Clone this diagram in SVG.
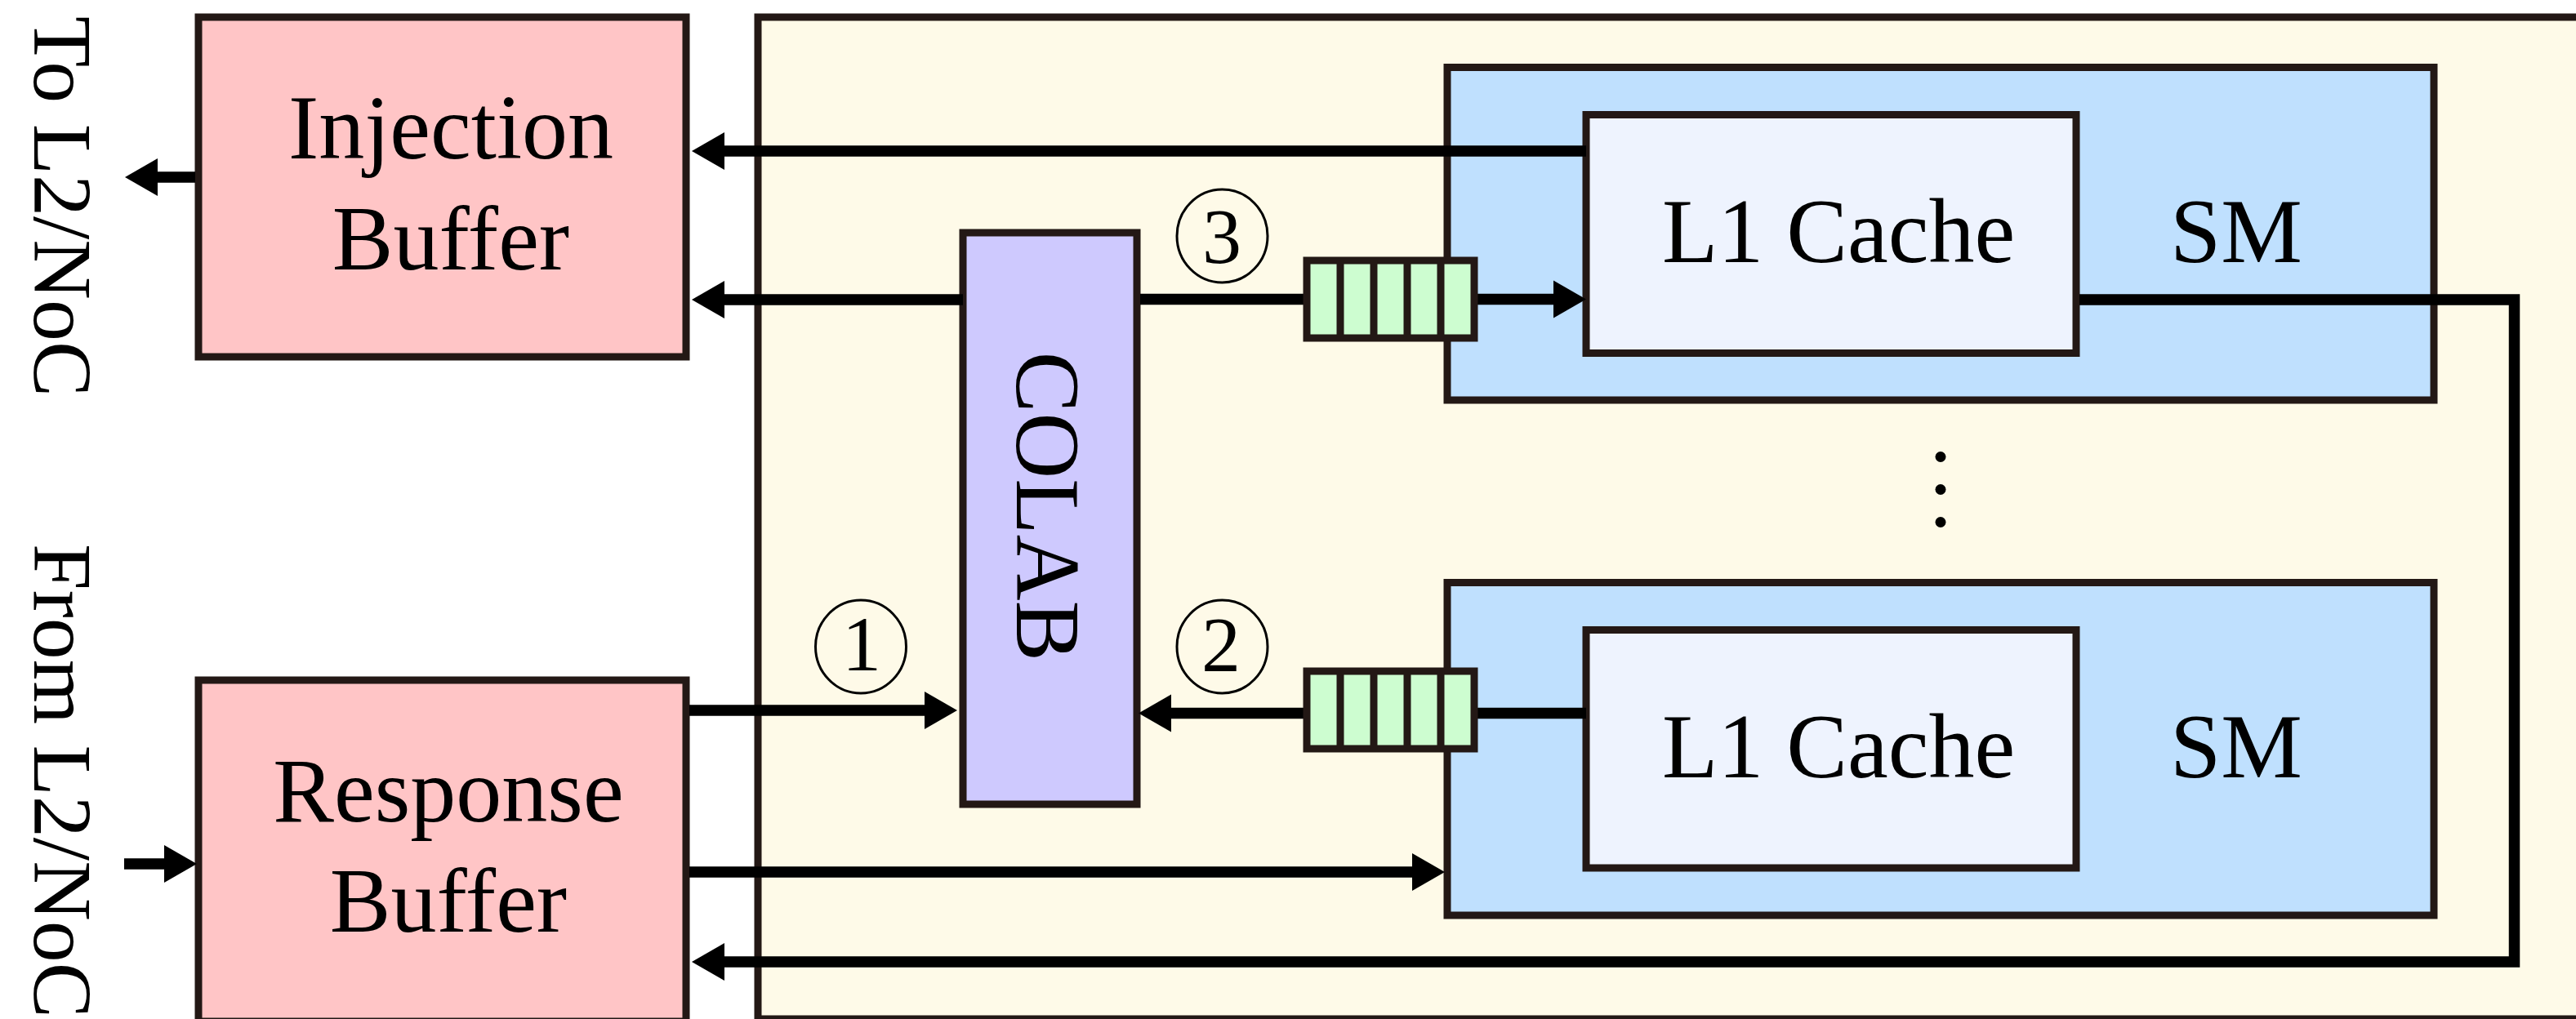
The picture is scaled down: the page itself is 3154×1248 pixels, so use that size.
<svg xmlns="http://www.w3.org/2000/svg" width="3154" height="1248" viewBox="0 0 3154 1248">
<defs>
<style>
.box{stroke:#231815;stroke-width:9}
.buf{fill:#FFC5C6}
.cont{fill:#FEFAE8}
.sm{fill:#BFE0FE}
.l1{fill:#EEF3FE}
.colab{fill:#CEC9FE}
.q{fill:#CDFDD0}
.t{font-family:"Liberation Serif","Times New Roman",serif;font-size:112px;fill:#000}
.side{font-family:"Liberation Serif","Times New Roman",serif;font-size:102px;fill:#000}
.num{font-family:"Liberation Serif","Times New Roman",serif;font-size:96px;fill:#000;text-anchor:middle}
.c{fill:none;stroke:#000;stroke-width:3}
.w{fill:none;stroke:#000;stroke-width:13.5;stroke-linejoin:miter}
</style>
<marker id="ah" markerUnits="userSpaceOnUse" viewBox="0 -23 41 46" refX="0" refY="0" markerWidth="41" markerHeight="46" orient="auto" overflow="visible">
<path d="M0,-23 L40,0 L0,23 Z" fill="#000"/>
</marker>
</defs>
<rect width="3154" height="1248" fill="#fff"/>

<g id="container">
<rect class="box cont" x="928" y="21" width="2260" height="1227"/>
</g>

<g id="sm1">
<rect class="box sm" x="1772" y="82.5" width="1208" height="407.5"/>
<text class="t" x="2738" y="321" text-anchor="middle">SM</text>
</g>
<g id="l1-1">
<rect class="box l1" x="1942" y="140.5" width="600" height="292"/>
<text class="t" x="2251" y="321" text-anchor="middle">L1 Cache</text>
</g>

<g id="sm2">
<rect class="box sm" x="1772" y="713.5" width="1208" height="407.5"/>
<text class="t" x="2738" y="952" text-anchor="middle">SM</text>
</g>
<g id="l1-2">
<rect class="box l1" x="1942" y="771.5" width="600" height="291.5"/>
<text class="t" x="2251" y="952" text-anchor="middle">L1 Cache</text>
</g>

<g id="dots" fill="#000">
<circle cx="2376" cy="559.5" r="6.5"/>
<circle cx="2376" cy="599.5" r="6.5"/>
<circle cx="2376" cy="639.5" r="6.5"/>
</g>

<g id="injection-buffer">
<rect class="box buf" x="243" y="21" width="597" height="416"/>
<text class="t" x="552" y="194" text-anchor="middle">Injection</text>
<text class="t" x="552" y="330" text-anchor="middle">Buffer</text>
</g>

<g id="response-buffer">
<rect class="box buf" x="243" y="833" width="597" height="418"/>
<text class="t" x="549" y="1006" text-anchor="middle">Response</text>
<text class="t" x="549" y="1141" text-anchor="middle">Buffer</text>
</g>

<g id="colab">
<rect class="box colab" x="1179" y="285" width="213" height="700"/>
<text class="t" font-size="111" text-anchor="middle" transform="translate(1245,620.5) rotate(90)">COLAB</text>
</g>

<g id="labels">
<text class="side" transform="translate(41.5,20) rotate(90)">To L2/NoC</text>
<text class="side" transform="translate(41.5,666) rotate(90)">From L2/NoC</text>
</g>

<g id="connectors">
<path class="w" d="M1942,185 H887" marker-end="url(#ah)"/>
<path class="w" d="M1179,367 H887" marker-end="url(#ah)"/>
<path class="w" d="M239,217 H193" marker-end="url(#ah)"/>
<path class="w" d="M1396,366.5 H1600"/>
<path class="w" d="M1805,366.5 H1902" marker-end="url(#ah)"/>
<path class="w" d="M2546,367 H3078.5 V1178 H887" marker-end="url(#ah)"/>
<path class="w" d="M844,870 H1132" marker-end="url(#ah)"/>
<path class="w" d="M1942,873.5 H1805"/>
<path class="w" d="M1600,873.5 H1434" marker-end="url(#ah)"/>
<path class="w" d="M844,1068 H1729" marker-end="url(#ah)"/>
<path class="w" d="M152,1058 H201" marker-end="url(#ah)"/>
</g>

<g id="queue-1">
<rect class="box q" x="1600" y="319" width="205" height="95"/>
<path class="box" d="M1641,319 V414 M1682,319 V414 M1723,319 V414 M1764,319 V414"/>
</g>
<g id="queue-2">
<rect class="box q" x="1600" y="822" width="205" height="95"/>
<path class="box" d="M1641,822 V917 M1682,822 V917 M1723,822 V917 M1764,822 V917"/>
</g>

<g id="step-3">
<ellipse class="c" cx="1496.5" cy="289" rx="55.5" ry="57"/>
<text class="num" x="1496" y="321.5">3</text>
</g>
<g id="step-1">
<ellipse class="c" cx="1054" cy="792" rx="55.5" ry="57"/>
<text class="num" x="1055" y="820.5">1</text>
</g>
<g id="step-2">
<ellipse class="c" cx="1496.5" cy="792" rx="55.5" ry="57"/>
<text class="num" x="1495" y="822">2</text>
</g>
</svg>
